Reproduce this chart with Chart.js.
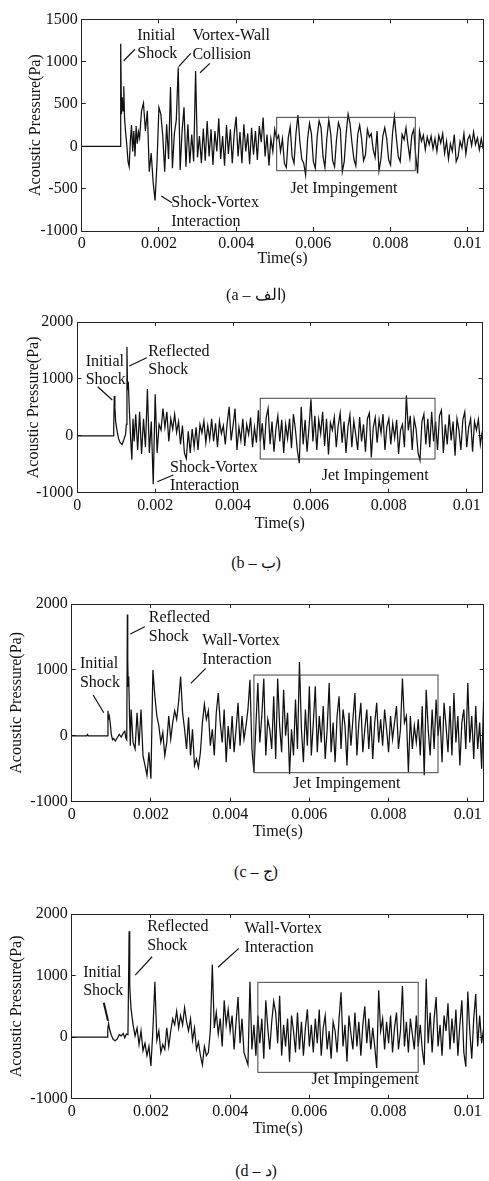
<!DOCTYPE html>
<html>
<head>
<meta charset="utf-8">
<script src="https://cdn.jsdelivr.net/npm/chart.js@4.4.0/dist/chart.umd.min.js"></script>
<style>
  body { margin: 0; background: #fff; width: 489px; height: 1181px; position: relative; overflow: hidden; }
  canvas { position: absolute; left: 0; }
  .caption { position: absolute; left: 156px; width: 200px; height: 20px; line-height: 20px; text-align: center; font: 16px 'Liberation Serif', 'Times New Roman', 'DejaVu Serif', serif; color: #111; }
</style>
</head>
<body>
<canvas id="chart-a" width="489" height="272" style="top:0px"></canvas>
<canvas id="chart-b" width="489" height="236" style="top:300px"></canvas>
<canvas id="chart-c" width="489" height="264" style="top:580px"></canvas>
<canvas id="chart-d" width="489" height="252" style="top:890px"></canvas>
<div class="caption" style="top:285px">(a – الف)</div>
<div class="caption" style="top:553px">(b – ب)</div>
<div class="caption" style="top:862px">(c – ج)</div>
<div class="caption" style="top:1161px">(d – د)</div>
<script>
// axis ticks
const X_TICKS = [0, 0.002, 0.004, 0.006, 0.008, 0.01];
const X_TICK_LABELS = ['0', '0.002', '0.004', '0.006', '0.008', '0.01'];
const Y_TICKS_A = [-1000, -500, 0, 500, 1000, 1500];
const Y_TICKS_BCD = [-1000, 0, 1000, 2000];

// sampling times after the shocks (microseconds), shared by all four records
const GRID_US = [
    1500, 1550, 1600, 1650, 1700, 1750, 1800, 1850, 1900, 1950,
    2000, 2050, 2100, 2150, 2200, 2250, 2300, 2350, 2400, 2450,
    2500, 2550, 2600, 2650, 2700, 2750, 2800, 2850, 2900, 2950,
    3000, 3050, 3100, 3150, 3200, 3250, 3300, 3350, 3400, 3450,
    3500, 3550, 3600, 3650, 3700, 3750, 3800, 3850, 3900, 3950,
    4000, 4050, 4100, 4150, 4200, 4250, 4300, 4350, 4400, 4450,
    4500, 4550, 4600, 4650, 4700, 4750, 4800, 4850, 4900, 4950,
    5000, 5050, 5100, 5150, 5200, 5250, 5300, 5350, 5400, 5450,
    5500, 5550, 5600, 5650, 5700, 5750, 5800, 5850, 5900, 5950,
    6000, 6050, 6100, 6150, 6200, 6250, 6300, 6350, 6400, 6450,
    6500, 6550, 6600, 6650, 6700, 6750, 6800, 6850, 6900, 6950,
    7000, 7050, 7100, 7150, 7200, 7250, 7300, 7350, 7400, 7450,
    7500, 7550, 7600, 7650, 7700, 7750, 7800, 7850, 7900, 7950,
    8000, 8050, 8100, 8150, 8200, 8250, 8300, 8350, 8400, 8450,
    8500, 8550, 8600, 8650, 8700, 8750, 8800, 8850, 8900, 8950,
    9000, 9050, 9100, 9150, 9200, 9250, 9300, 9350, 9400, 9450,
    9500, 9550, 9600, 9650, 9700, 9750, 9800, 9850, 9900, 9950,
    10000, 10050, 10100, 10150, 10200, 10250, 10300, 10350, 10400
];

// (a) early part: quiet, initial shock
const EARLY_US_A = [0, 1000, 1005, 1015, 1030, 1050, 1070, 1090, 1110, 1140, 1170, 1200, 1230, 1260, 1290, 1320, 1350, 1380, 1410, 1440, 1470];
const EARLY_PA_A = [0, 0, 250, 1210, 380, 580, 420, 710, 330, 150, 10, -180, -240, 60, 250, -60, 180, -120, 240, 30, 170];
const LATE_PA_A = [
    100, 420, 510, 180, 420, -300, -80, -420, -640, -200,
    460, 380, 120, -300, 260, -150, 700, -260, 150, 310,
    930, -280, 180, 460, -240, 260, -200, 140, -180, 890,
    -130, 120, -200, 210, -170, 300, -120, 200, -220, 180,
    -60, 330, -150, 120, -230, 250, -90, 200, -200, 150,
    350, -120, 170, -200, 260, -60, 150, -210, 220, -100,
    180, -160, 240, 50, 340, -120, 140, -230, 90, -60,
    200, 80, 130, -60, 90, -200, -250, 100, 230, -120,
    -200, 150, 370, 60, -150, -200, -340, 80, 270, 150,
    -180, -260, 120, 300, 220, -120, -250, 100, 310, 150,
    -170, -240, 80, 280, 200, -300, -180, 150, 380, 270,
    40, -150, -230, 140, 250, 90, -170, -100, 200, 110,
    150, -40, -130, 180, -290, -150, 120, 220, 90, -160,
    -220, 150, 350, 100, -120, -180, 140, 80, 220, 20,
    -140, 130, 200, -100, -320, 180, 60, 130, -40, 110,
    20, 120, -30, 90, -60, 130, 40, 150, -80, 60,
    -150, 30, -60, 140, -180, -120, 60, -20, 150, -90,
    80, 130, 10, 170, 20, 100, -40, 90, -30
];

// (b)
const EARLY_US_B = [0, 920, 935, 950, 965, 985, 1000, 1030, 1060, 1100, 1150, 1200, 1240, 1260, 1275, 1290, 1310, 1340, 1370, 1400, 1430, 1460];
const EARLY_PA_B = [0, 0, 150, 700, 500, 250, 180, 50, -50, -120, -150, -60, 30, 200, 1560, 800, 950, 400, -50, -420, 300, -100];
const LATE_PA_B = [
    380, -250, 420, -320, 300, -200, 820, -300, 250, -850,
    730, -300, 200, 100, 480, 150, 420, -100, 300, 120,
    380, 60, 250, -150, 180, -300, -400, 80, -300, 120,
    -200, 150, -250, 200, 50, 260, -120, 180, -60, 300,
    -100, 220, -200, 260, 40, 180, -150, 230, 510, -80,
    180, 480, -250, 150, -80, 300, -180, 200, 20, 320,
    -200, 150, -120, 450, -100, 220, -250, 320, 480, -150,
    250, -280, 120, 350, -100, 280, -300, 200, -50, 300,
    -220, 380, 120, -250, -480, 510, -150, 280, -280, 150,
    640, -100, 350, -250, 280, 40, 420, -180, 300, -330,
    230, 100, 330, -200, 180, 400, -120, 250, -300, 150,
    370, -200, 260, 20, -250, 330, -100, 200, -280, 300,
    400, -380, 150, 320, -120, 280, 50, 380, -250, 160,
    300, -150, 220, -40, 280, -320, 100, 200, -200, 710,
    100, 350, -250, 300, 120, -300, -430, 250, 380, -150,
    300, -200, 420, -100, 250, -250, 350, 450, -300, 200,
    -150, 380, -80, 250, -350, 300, 100, -250, 280, 420,
    -200, 150, 300, -280, 250, 100, 290, -150, 80
];

// (c)
const EARLY_US_C = [0, 380, 400, 420, 905, 915, 930, 950, 975, 1000, 1030, 1060, 1100, 1150, 1200, 1250, 1300, 1340, 1370, 1390, 1405, 1415, 1425, 1440, 1460, 1480];
const EARLY_PA_C = [0, 0, 20, 0, 0, 380, 260, 300, 180, 20, -60, -40, -80, -30, 20, -20, 40, 70, -40, -60, 1840, 1150, 750, 900, 300, -150];
const LATE_PA_C = [
    400, -100, -200, 350, -150, 400, -300, -450, -600, -250,
    -650, 1000, 600, 300, 150, -100, 50, -300, -100, 300,
    -50, 200, 380, 250, 520, 900, 350, 100, -200, 280,
    -300, 100, -450, -350, -480, -250, 200, 480, 250, 380,
    -150, 100, -300, 350, 650, 200, -100, 400, -400, 150,
    -200, 300, -250, 100, 500, -150, 300, -50, 150, 400,
    850, -200, -550, 150, 800, -100, 300, 870, -300, 250,
    100, -200, 600, -350, 870, 150, -250, 700, 0, 350,
    -580, 100, -300, 550, -200, 1120, 100, -400, 400, -150,
    750, -300, 200, 750, -250, 300, -100, 450, -350, 100,
    800, -250, 200, -400, 300, 600, -200, 400, 150, -450,
    350, -150, 250, 650, -300, 200, 500, -250, 100, 400,
    -200, 300, -350, 200, 500, -100, 250, -150, 400, 100,
    -250, 300, -50, 200, 450, -200, 100, 870, 200, 300,
    -550, 300, -200, 150, -100, 250, -300, 450, -600, 700,
    100, -300, 400, -200, 550, 0, 300, -400, 500, 150,
    -250, 450, -300, 650, -100, 300, -450, 200, 400, -200,
    800, -100, 300, -350, 450, -200, 200, -500, 550
];

// (d)
const EARLY_US_D = [0, 895, 910, 930, 960, 1000, 1050, 1100, 1150, 1200, 1250, 1300, 1340, 1380, 1420, 1450, 1460, 1470, 1480];
const EARLY_PA_D = [0, 0, 120, 220, 120, 30, -40, -60, -30, 40, 20, 60, -10, 50, 40, 1720, 1150, 850, 650];
const LATE_PA_D = [
    450, 200, 20, 150, -120, 100, -220, -100, -300, -150,
    -470, 120, 900, -50, 100, -250, -120, -200, 150, -150,
    100, 300, 200, 420, 150, 350, 200, 480, 250, 100,
    300, -50, 150, -200, -80, -300, -450, -150, -300, -250,
    100, 1180, 150, 400, 50, 300, -150, 600, 200, 450,
    100, 350, -200, 250, 650, -100, 300, -250, -350, -450,
    900, -200, 200, -300, 350, -100, 300, -350, 600, 150,
    -200, 250, 580, 400, -100, 670, -300, 200, -150, 300,
    -400, 350, 100, -250, 400, -200, 250, -300, 150, 450,
    -150, 200, -250, 300, -100, 450, -300, 150, 350, -200,
    100, -350, 250, 100, -250, 300, 730, -150, 200, -400,
    350, 50, -200, 400, -150, 250, -300, 200, 500, -100,
    300, -200, 150, -150, -500, 760, 100, 300, -200, 250,
    -100, 350, -250, 150, 400, -200, 100, 830, -150, 250,
    -250, 300, 50, -200, 350, -150, 200, -200, -450, 950,
    -100, 400, -250, 300, 650, -150, 200, -300, 350, 100,
    550, -200, 300, -100, 450, -300, 200, 600, -250, -480,
    740, 100, -350, 300, 700, -150, 350, -100, 150
];

// labels [text, time (s), pressure (Pa)] placed at text baseline, left aligned
const LABELS_A = [
    ['Initial', 0.00144, 1255], ['Shock', 0.00144, 1039],
    ['Vortex-Wall', 0.002868, 1255], ['Collision', 0.002868, 1031],
    ['Shock-Vortex', 0.00232, -713], ['Interaction', 0.00232, -938],
    ['Jet Impingement', 0.005405, -555]
];
const LEADERS_A = [[0.001088, 1011, 0.00138, 1146], [0.002511, 940, 0.002825, 1098], [0.003065, 869, 0.00332, 980], [0.002059, -587, 0.00234, -666]];
const BOX_A = [0.00505, 0.008641, 342, -288];

const LABELS_B = [
    ['Initial', 0.000216, 1227], ['Shock', 0.000216, 905],
    ['Reflected', 0.001823, 1408], ['Shock', 0.001823, 1086],
    ['Shock-Vortex', 0.00238, -631], ['Interaction', 0.00238, -953],
    ['Jet Impingement', 0.006276, -777]
];
const LEADERS_B = [[0.000524, 863, 0.000899, 629], [0.001335, 1227, 0.001782, 1373], [0.002054, -807, 0.002465, -689]];
const BOX_B = [0.004698, 0.009186, 659, -408];

const LABELS_C = [
    ['Reflected', 0.001945, 1731], ['Shock', 0.001945, 1438],
    ['Wall-Vortex', 0.003298, 1377], ['Interaction', 0.003298, 1089],
    ['Initial', 0.000208, 1024], ['Shock', 0.000208, 745],
    ['Jet Impingement', 0.005596, -796]
];
const LEADERS_C = [[0.001479, 1544, 0.001845, 1655], [0.003008, 796, 0.003383, 1024], [0.000541, 619, 0.00081, 350]];
const BOX_C = [0.0046, 0.009248, 922, -560];

const LABELS_D = [
    ['Reflected', 0.001905, 1723], ['Shock', 0.001905, 1414],
    ['Wall-Vortex', 0.004361, 1686], ['Interaction', 0.004361, 1387],
    ['Initial', 0.000291, 981], ['Shock', 0.000291, 684],
    ['Jet Impingement', 0.006055, -762]
];
const LEADERS_D = [[0.001604, 1008, 0.00203, 1306], [0.003692, 1134, 0.004218, 1442], [0.00081, 559, 0.000917, 266]];
const BOX_D = [0.0047, 0.008747, 890, -572];

const SERIF = "'Liberation Serif', 'Times New Roman', 'DejaVu Serif', serif";
const INK = '#111';

const toPoints = (earlyUs, earlyPa, latePa) => {
    const early = earlyUs.map((t, i) => ({ x: t * 1e-6, y: earlyPa[i] }));
    const late = GRID_US.map((t, i) => ({ x: t * 1e-6, y: latePa[i] }));
    return early.concat(late);
};

// boxes, leader lines and text notes drawn in data coordinates
const figureNotes = {
    id: 'figureNotes',
    afterDatasetsDraw(chart, args, opts) {
        const { ctx } = chart;
        const x = chart.scales.x;
        const y = chart.scales.y;
        ctx.save();

        ctx.strokeStyle = '#444';
        ctx.lineWidth = 1;
        const [t0, t1, p0, p1] = opts.box;
        const bx = x.getPixelForValue(t0);
        const by = y.getPixelForValue(p0);
        ctx.strokeRect(bx, by, x.getPixelForValue(t1) - bx, y.getPixelForValue(p1) - by);

        ctx.strokeStyle = INK;
        opts.leaders.forEach(([ta, pa, tb, pb], i) => {
            ctx.lineWidth = opts.thickLeader === i ? 2 : 1.2;
            ctx.beginPath();
            ctx.moveTo(x.getPixelForValue(ta), y.getPixelForValue(pa));
            ctx.lineTo(x.getPixelForValue(tb), y.getPixelForValue(pb));
            ctx.stroke();
        });

        ctx.fillStyle = INK;
        ctx.font = '16px ' + SERIF;
        ctx.textAlign = 'left';
        ctx.textBaseline = 'alphabetic';
        opts.labels.forEach(([text, t, p]) => {
            ctx.fillText(text, x.getPixelForValue(t), y.getPixelForValue(p));
        });
        ctx.restore();
    }
};

const fixedSize = (size, horizontal) => (scale) => {
    if (horizontal) {
        scale.height = size;
    } else {
        scale.width = size;
    }
};

const setTicks = (values) => (scale) => {
    scale.ticks = values.map(v => ({ value: v }));
};

const renderPanel = (canvasId, points, yTicks, notes, frame) => {
    const context = document.getElementById(canvasId).getContext('2d');
    const yMin = yTicks[0];
    const yMax = yTicks[yTicks.length - 1];
    const xMax = 0.0104;
    const font = { family: SERIF, size: 16 };
    const edge = { display: true, color: '#222', width: 1 };
    const inward = { display: true, drawOnChartArea: false, drawTicks: true, tickLength: -4, color: '#222' };

    return new Chart(context, {
        type: 'line',
        data: {
            datasets: [{
                data: points,
                borderColor: INK,
                borderWidth: 1.25,
                pointRadius: 0,
                tension: 0,
                fill: false
            }]
        },
        options: {
            responsive: false,
            animation: false,
            parsing: false,
            normalized: true,
            layout: { padding: 0 },
            scales: {
                x: {
                    type: 'linear',
                    position: 'bottom',
                    min: 0,
                    max: xMax,
                    afterBuildTicks: setTicks(X_TICKS),
                    afterFit: fixedSize(frame.bottom, true),
                    border: edge,
                    grid: inward,
                    ticks: {
                        autoSkip: false,
                        maxRotation: 0,
                        padding: 7,
                        color: INK,
                        font: font,
                        callback: (value, index) => X_TICK_LABELS[index]
                    },
                    title: {
                        display: true,
                        text: 'Time(s)',
                        color: INK,
                        font: font,
                        padding: { top: 0, bottom: frame.xTitlePad }
                    }
                },
                xTop: {
                    type: 'linear',
                    position: 'top',
                    min: 0,
                    max: xMax,
                    afterBuildTicks: setTicks(X_TICKS),
                    afterFit: fixedSize(frame.top, true),
                    border: edge,
                    grid: inward,
                    ticks: { display: false }
                },
                y: {
                    type: 'linear',
                    position: 'left',
                    min: yMin,
                    max: yMax,
                    afterBuildTicks: setTicks(yTicks),
                    afterFit: fixedSize(frame.left, false),
                    border: edge,
                    grid: inward,
                    ticks: {
                        padding: 8,
                        color: INK,
                        font: font,
                        callback: (value) => String(value)
                    },
                    title: {
                        display: true,
                        text: 'Acoustic Pressure(Pa)',
                        color: INK,
                        font: font,
                        padding: { top: frame.yTitlePad, bottom: 0 }
                    }
                },
                yRight: {
                    type: 'linear',
                    position: 'right',
                    min: yMin,
                    max: yMax,
                    afterBuildTicks: setTicks(yTicks),
                    afterFit: fixedSize(frame.right, false),
                    border: edge,
                    grid: inward,
                    ticks: { display: false }
                }
            },
            plugins: {
                legend: { display: false },
                tooltip: { enabled: false },
                figureNotes: notes
            }
        },
        plugins: [figureNotes]
    });
};

document.addEventListener('DOMContentLoaded', () => {
    renderPanel('chart-a', toPoints(EARLY_US_A, EARLY_PA_A, LATE_PA_A), Y_TICKS_A,
        { labels: LABELS_A, leaders: LEADERS_A, box: BOX_A },
        { top: 19.3, bottom: 41, left: 81.7, right: 0, yTitlePad: 26, xTitlePad: 3.4 });

    renderPanel('chart-b', toPoints(EARLY_US_B, EARLY_PA_B, LATE_PA_B), Y_TICKS_BCD,
        { labels: LABELS_B, leaders: LEADERS_B, box: BOX_B },
        { top: 22, bottom: 43.3, left: 77.3, right: 6.7, yTitlePad: 23.7, xTitlePad: 3.1 });

    renderPanel('chart-c', toPoints(EARLY_US_C, EARLY_PA_C, LATE_PA_C), Y_TICKS_BCD,
        { labels: LABELS_C, leaders: LEADERS_C, box: BOX_C },
        { top: 24, bottom: 42.3, left: 71.7, right: 0.7, yTitlePad: 7, xTitlePad: 2.7 });

    renderPanel('chart-d', toPoints(EARLY_US_D, EARLY_PA_D, LATE_PA_D), Y_TICKS_BCD,
        { labels: LABELS_D, leaders: LEADERS_D, box: BOX_D, thickLeader: 2 },
        { top: 24, bottom: 43.3, left: 71.7, right: 1.7, yTitlePad: 7.5, xTitlePad: 3.4 });
});
</script>
</body>
</html>
